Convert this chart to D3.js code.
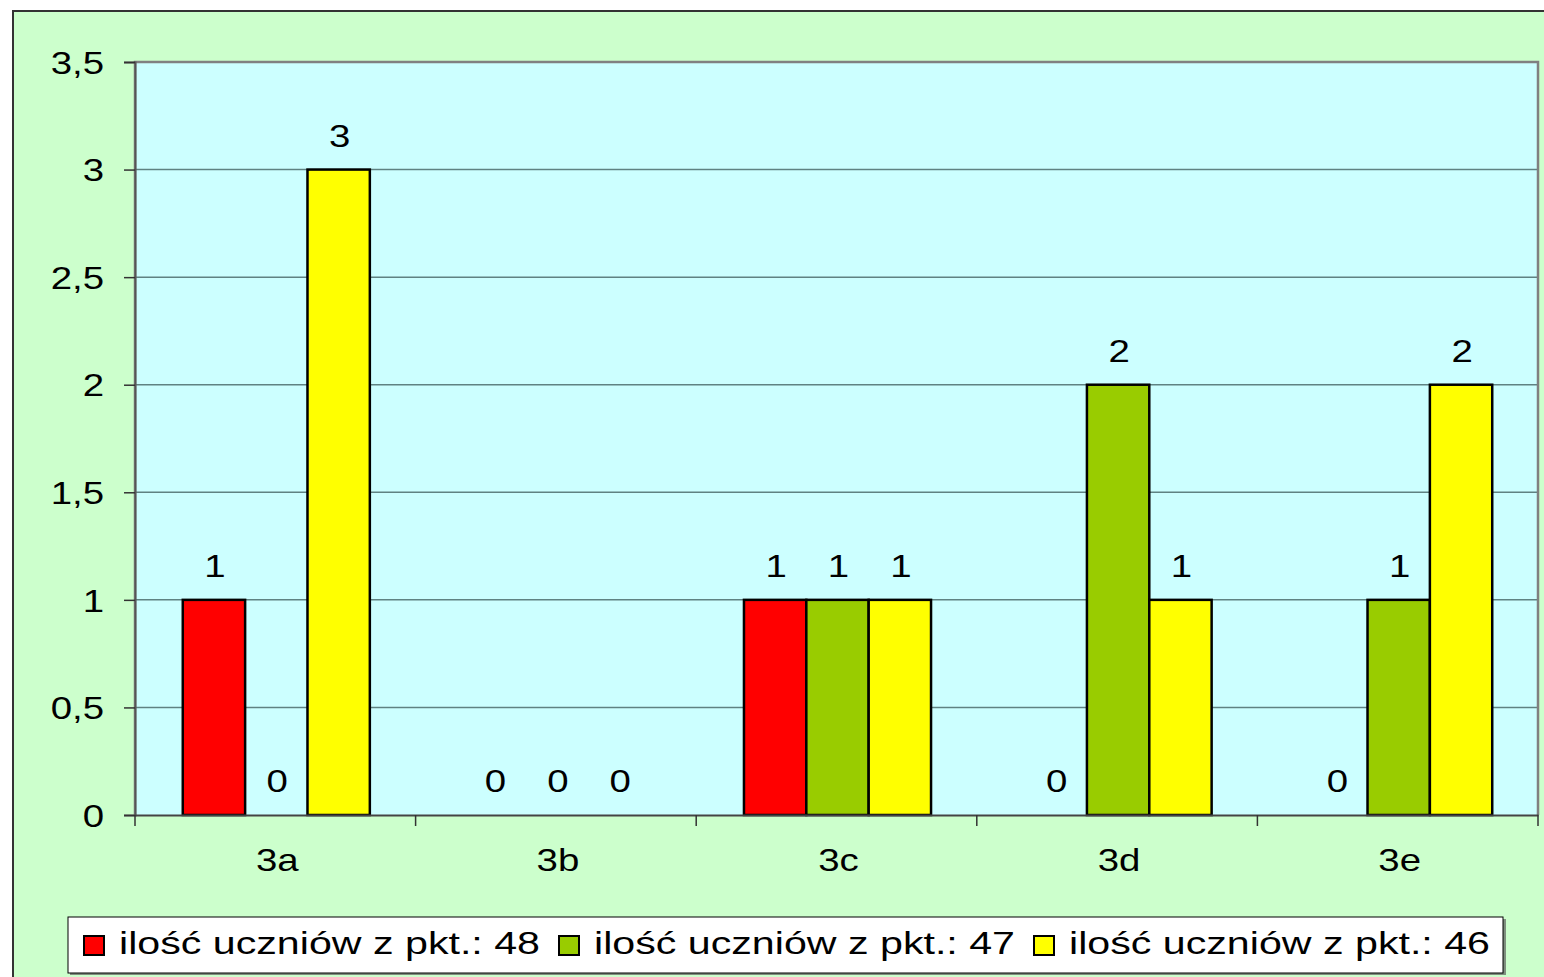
<!DOCTYPE html>
<html lang="pl">
<head>
    <meta charset="UTF-8">
    <script src="https://d3js.org/d3.v7.min.js"></script>
    <style>
        body {
            margin: 0;
            background: #fff;
            font-family: "Liberation Sans", Arial, sans-serif;
        }
        svg text {
            fill: #000;
        }
    </style>
</head>
<body>
    <svg id="chart" width="1544" height="977"></svg>
    <script>
        // dane
        const klasy = ["3a", "3b", "3c", "3d", "3e"];
        const serie = ["ilość uczniów z pkt.: 48", "ilość uczniów z pkt.: 47", "ilość uczniów z pkt.: 46"];
        const kolory = ["#FF0000", "#99CC00", "#FFFF00"];
        const pkt48 = [1, 0, 1, 0, 0];
        const pkt47 = [0, 0, 1, 2, 1];
        const pkt46 = [3, 0, 1, 1, 2];
        const wartosci = [pkt48, pkt47, pkt46];
        const yTicks = [0, 0.5, 1, 1.5, 2, 2.5, 3, 3.5];

        const STRETCH = 1.2;   // tekst w oryginale jest rozciągnięty w poziomie
        const FS = 32;
        const fmt = d => String(d).replace(".", ",");

        const svg = d3.select("#chart");
        const margin = { top: 62, right: 6, bottom: 162, left: 135 };
        const plotW = 1538 - margin.left, plotH = 815 - margin.top;

        // tło wykresu
        svg.append("rect")
            .attr("x", 13).attr("y", 11)
            .attr("width", 1600).attr("height", 1000)
            .attr("fill", "#CCFFCC")
            .attr("stroke", "#333").attr("stroke-width", 2);

        const g = svg.append("g").attr("transform", `translate(${margin.left},${margin.top})`);

        g.append("rect")
            .attr("width", plotW).attr("height", plotH)
            .attr("fill", "#CCFFFF");

        const x0 = d3.scaleBand().domain(klasy).range([0, plotW]);
        const barW = x0.bandwidth() / 4.5;
        const x1 = d3.scaleBand().domain(d3.range(serie.length))
            .range([barW * 0.75, x0.bandwidth() - barW * 0.75]);
        const y = d3.scaleLinear().domain([0, 3.5]).range([plotH, 0]);

        // linie siatki
        g.selectAll("line.grid")
            .data(yTicks.slice(1, -1))
            .enter().append("line")
            .attr("class", "grid")
            .attr("x1", 0).attr("x2", plotW)
            .attr("y1", d => y(d)).attr("y2", d => y(d))
            .attr("stroke", "#5f8282").attr("stroke-width", 1.5);

        // ramka obszaru wykresu
        g.append("path")
            .attr("d", `M0,${plotH}V0H${plotW}V${plotH}`)
            .attr("fill", "none")
            .attr("stroke", "#808080").attr("stroke-width", 2.5);

        // słupki
        const grupy = g.selectAll("g.klasa")
            .data(klasy)
            .enter().append("g")
            .attr("class", "klasa")
            .attr("transform", d => `translate(${x0(d)},0)`);

        grupy.selectAll("rect")
            .data((k, i) => wartosci.map((s, j) => ({ seria: j, v: s[i] })))
            .enter().append("rect")
            .filter(d => d.v > 0)
            .attr("x", d => x1(d.seria) + 1)
            .attr("y", d => y(d.v))
            .attr("width", x1.bandwidth())
            .attr("height", d => y(0) - y(d.v))
            .attr("fill", d => kolory[d.seria])
            .attr("stroke", "#000").attr("stroke-width", 2.5);

        // etykiety wartości
        grupy.selectAll("text")
            .data((k, i) => wartosci.map((s, j) => ({ seria: j, v: s[i] })))
            .enter().append("text")
            .attr("transform", d => `translate(${x1(d.seria) + x1.bandwidth() / 2 + 2},${y(d.v) - 23}) scale(${STRETCH},1)`)
            .attr("text-anchor", "middle")
            .attr("font-size", FS)
            .text(d => fmt(d.v));

        // oś Y
        const yAxis = g.append("g")
            .call(d3.axisLeft(y).tickValues(yTicks).tickSize(11).tickPadding(0).tickFormat(fmt));
        yAxis.select(".domain").attr("stroke", "#555").attr("stroke-width", 2);
        yAxis.selectAll(".tick line").attr("stroke", "#333").attr("stroke-width", 1.5);
        yAxis.selectAll(".tick text")
            .attr("x", -31 / STRETCH)
            .attr("dy", "0.35em")
            .attr("font-size", FS)
            .attr("font-family", "'Liberation Sans', Arial, sans-serif")
            .attr("transform", `scale(${STRETCH},1)`);

        // oś X
        const xAxis = g.append("g")
            .attr("transform", `translate(0,${plotH})`)
            .call(d3.axisBottom(x0).tickSize(0).tickPadding(33));
        xAxis.select(".domain").attr("stroke", "#444").attr("stroke-width", 2);
        xAxis.selectAll(".tick text")
            .attr("font-size", FS)
            .attr("font-family", "'Liberation Sans', Arial, sans-serif")
            .attr("transform", `scale(${STRETCH},1)`)
            .each(function () {
                const t = d3.select(this.parentNode).attr("transform");
                const cx = +t.match(/translate\(([-\d.]+)/)[1];
                d3.select(this.parentNode).attr("transform", `translate(${cx + 2},0)`);
            });
        xAxis.selectAll("line.sep")
            .data(d3.range(klasy.length + 1))
            .enter().append("line")
            .attr("class", "sep")
            .attr("x1", i => i * x0.step()).attr("x2", i => i * x0.step())
            .attr("y1", 0).attr("y2", 11)
            .attr("stroke", "#333").attr("stroke-width", 1.5);

        // legenda
        const leg = svg.append("g").attr("transform", "translate(68,917)");
        leg.append("rect")
            .attr("x", 2).attr("y", 2)
            .attr("width", 1436).attr("height", 56)
            .attr("fill", "#7f8f7f");
        leg.append("rect")
            .attr("width", 1435).attr("height", 56)
            .attr("fill", "#fff")
            .attr("stroke", "#000").attr("stroke-width", 1);

        const item = leg.selectAll("g.item")
            .data(serie)
            .enter().append("g")
            .attr("class", "item")
            .attr("transform", (d, i) => `translate(${16 + i * 475},0)`);
        item.append("rect")
            .attr("x", 0).attr("y", 19)
            .attr("width", 20).attr("height", 19)
            .attr("fill", (d, i) => kolory[i])
            .attr("stroke", "#000").attr("stroke-width", 2);
        item.append("text")
            .attr("x", 35).attr("y", 37)
            .attr("font-size", FS)
            .attr("textLength", 421)
            .attr("lengthAdjust", "spacingAndGlyphs")
            .text(d => d);
    </script>
</body>
</html>
